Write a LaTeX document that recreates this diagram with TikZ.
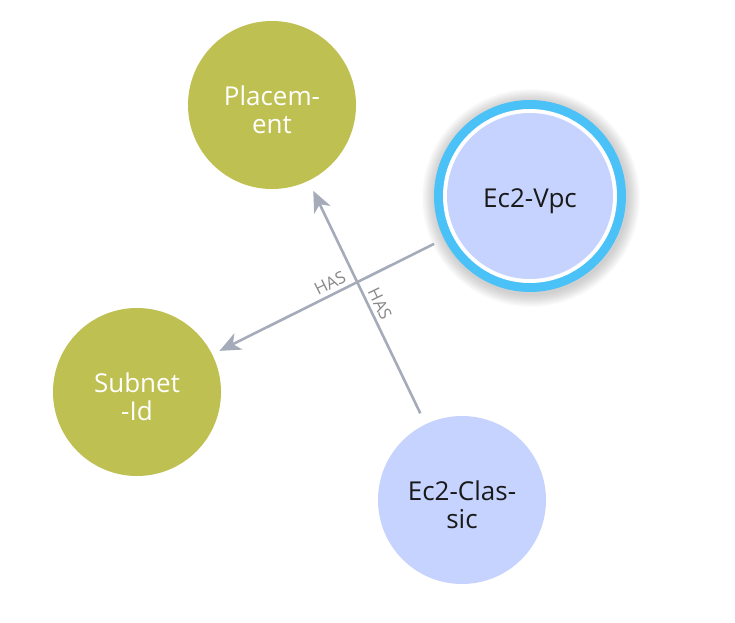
\documentclass[tikz,border=0pt]{standalone}
\usepackage{fontspec}
\setmainfont{Open Sans}
\usetikzlibrary{arrows.meta}
\definecolor{olive}{HTML}{BFC052}
\definecolor{lav}{HTML}{C6D3FE}
\definecolor{ring}{HTML}{4AC1F7}
\definecolor{edgec}{HTML}{A5ABB8}
\definecolor{labc}{HTML}{888888}
\tikzset{
  ent/.style={circle, minimum size=168pt, inner sep=0pt},
  enttext/.style={align=center, font=\fontsize{26}{28}\selectfont, inner sep=0pt, yshift=-5pt},
  olivenode/.style={ent, fill=olive},
  lavnode/.style={ent, fill=lav},
  edge/.style={draw=edgec, line width=2.6pt, -{Stealth[length=21pt, width=18pt, inset=6pt]}},
  haslabel/.style={text=labc, font=\fontsize{17}{17}\selectfont, inner sep=0pt}
}
\begin{document}
\begin{tikzpicture}[x=1pt,y=1pt]
\useasboundingbox (0,0) rectangle (735,622);
% shadow of Ec2-Vpc
\foreach \r in {97,98,...,109}{
  \fill[black, opacity=0.017] (531,424) circle (\r);
}
\node[circle, minimum size=192pt, inner sep=0pt, fill=ring] (vpcring) at (530,426) {};
\fill[white] (vpcring.center) circle (87);
\node[lavnode, minimum size=166pt, label={[enttext, text=black!90]center:Ec2-Vpc}] (vpc) at (530,426) {};
\node[olivenode, label={[enttext, text=white]center:Placem-\\ent}] (placement) at (272,517) {};
\node[olivenode, label={[enttext, text=white]center:Subnet\\-Id}] (subnet) at (137,230) {};
\node[lavnode, label={[enttext, text=black!90]center:Ec2-Clas-\\sic}] (classic) at (462,122) {};
\draw[edge, shorten <=11pt, shorten >=8pt] (vpcring) -- (subnet);
\draw[edge, shorten <=12pt, shorten >=11pt] (classic) -- (placement);
\node[haslabel, rotate=26.5] (l1) at (330,339) {HAS};
\node[haslabel, rotate=-64.2] (l2) at (380,318) {HAS};
\end{tikzpicture}
\end{document}
